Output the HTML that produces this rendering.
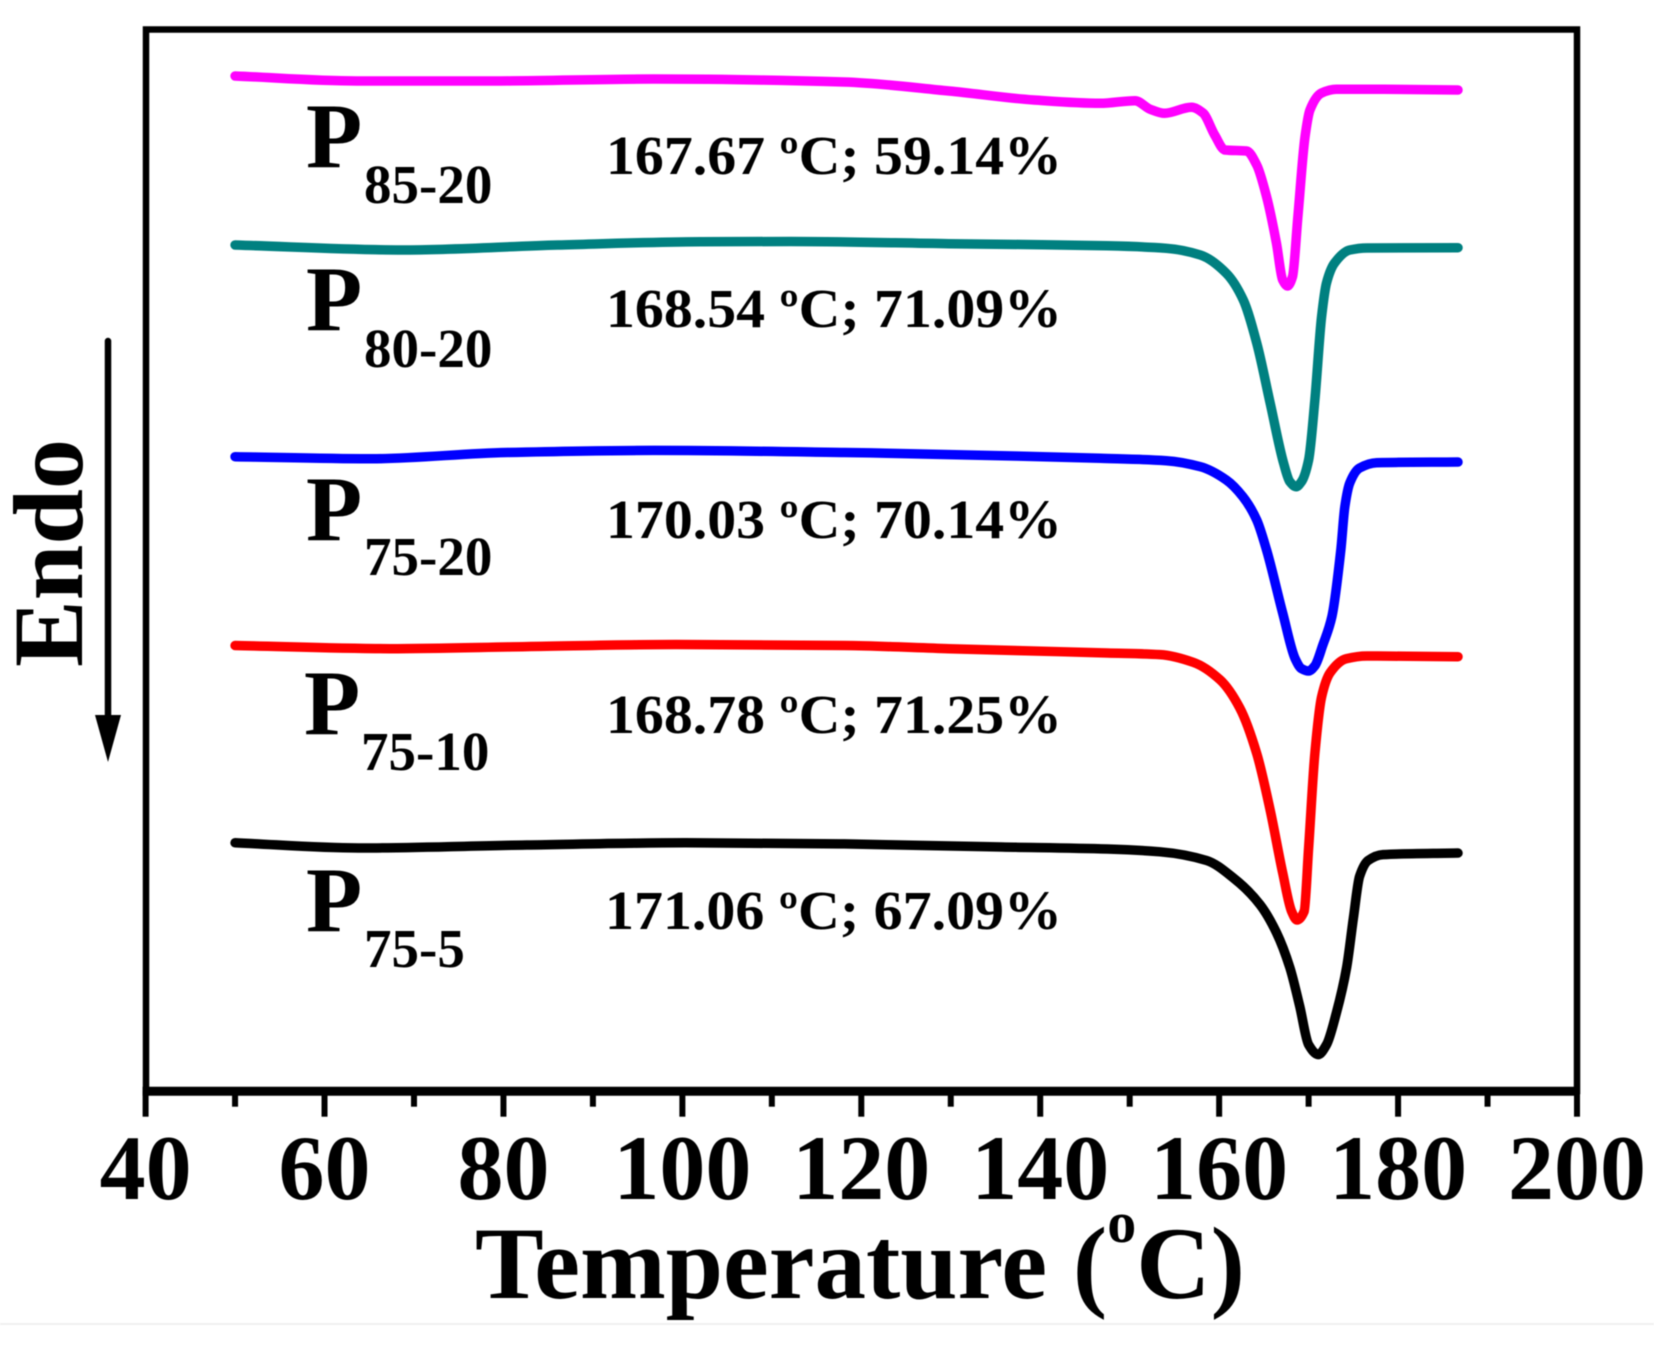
<!DOCTYPE html>
<html lang="en">
<head>
<meta charset="utf-8">
<title>DSC melting curves</title>
<style>
  html, body { margin: 0; padding: 0; background: #fff; }
  svg { display: block; filter: blur(0.6px); }
  text { font-family: "Liberation Serif", serif; font-weight: bold; fill: #000; }
</style>
</head>
<body>
<svg id="chart" xmlns="http://www.w3.org/2000/svg" width="1654" height="1345" viewBox="0 0 1654 1345">
  <rect x="0" y="0" width="1654" height="1345" fill="#ffffff"/>
  <rect x="0" y="1323" width="1654" height="2" fill="#f0f0f0"/>
  <g id="series-layer"></g>
  <rect x="146" y="29.5" width="1431" height="1061.5" fill="none" stroke="#000" stroke-width="6.5"/>
  <g id="axis-layer"></g>

  <text x="475" y="1298" font-size="103">Temperature (<tspan font-size="58" dy="-56">o</tspan><tspan dy="56">C)</tspan></text>

  <text transform="translate(82,667) rotate(-90)" font-size="100">Endo</text>
  <line x1="108" y1="341" x2="108" y2="720" stroke="#000" stroke-width="6.5" stroke-linecap="round"/>
  <polygon points="95,715 121,715 108,762" fill="#000"/>

  <g>
    <text x="306" y="167" font-size="92">P</text>
    <text x="364" y="203" font-size="55">85-20</text>
  </g>
  <g>
    <text x="306" y="330" font-size="92">P</text>
    <text x="364" y="367" font-size="55">80-20</text>
  </g>
  <g>
    <text x="306" y="540" font-size="92">P</text>
    <text x="364" y="575" font-size="55">75-20</text>
  </g>
  <g>
    <text x="304" y="734" font-size="92">P</text>
    <text x="361" y="770" font-size="55">75-10</text>
  </g>
  <g>
    <text x="306" y="931" font-size="92">P</text>
    <text x="364" y="967" font-size="55">75-5</text>
  </g>

  <text x="606" y="174" font-size="55" textLength="456" lengthAdjust="spacingAndGlyphs">167.67 ºC; 59.14%</text>
  <text x="606" y="327" font-size="55" textLength="456" lengthAdjust="spacingAndGlyphs">168.54 ºC; 71.09%</text>
  <text x="606" y="538" font-size="55" textLength="456" lengthAdjust="spacingAndGlyphs">170.03 ºC; 70.14%</text>
  <text x="606" y="733" font-size="55" textLength="456" lengthAdjust="spacingAndGlyphs">168.78 ºC; 71.25%</text>
  <text x="605" y="929" font-size="55" textLength="457" lengthAdjust="spacingAndGlyphs">171.06 ºC; 67.09%</text>
</svg>

<script>
// Axis tick data
const majorTicks = [40, 60, 80, 100, 120, 140, 160, 180, 200];
const minorTicks = [50, 70, 90, 110, 130, 150, 170, 190];

// Heat flow is in arbitrary units (no y tick labels in the figure)
const p85Temps = [50, 63.6, 78.6, 96.8, 118.1, 129.8, 139.3, 146.7, 150.6, 152.3, 153.9, 156.9, 158.2, 159.5, 160.65, 163.07, 164.2, 165.3, 166.4, 167.1, 167.65, 168.2, 168.8, 169.6, 170.15, 171.45, 173.1, 178.3, 186.7];
const p85Flow = [1014.7, 1009.7, 1009.7, 1011.7, 1008.7, 999.7, 990.7, 987.4, 990, 981.4, 977.4, 983.4, 977.7, 955.7, 940.7, 939.7, 925.7, 894, 847.7, 810.7, 804.7, 814, 874, 954, 980.7, 997.7, 1001.4, 1001.4, 1000.7];

const p80Temps = [50, 68.7, 86.1, 102, 112.1, 129.8, 147.45, 154.1, 157.9, 160.8, 162.7, 164.2, 165.7, 167.2, 167.9, 168.6, 169.2, 170, 170.7, 171.45, 172, 172.9, 174.6, 176.5, 186.7];
const p80Flow = [845.7, 840.7, 845.7, 849, 849.2, 847, 844.9, 842.4, 835.7, 817.4, 790.7, 747.7, 687.7, 627.7, 609, 604, 609, 630.7, 690.7, 774, 807.7, 827.7, 840.7, 842.7, 843];

const p7520Temps = [50, 65, 80.3, 96.8, 118.1, 135.7, 146.7, 154.1, 157.9, 160.8, 162.65, 164.2, 165.3, 167.1, 168.5, 169.2, 170, 170.7, 171.6, 172.6, 173.6, 174.05, 174.6, 175.7, 177.6, 186.7];
const p7520Flow = [634, 631.9, 638.2, 640.3, 638.2, 635, 632.4, 630, 624, 610.7, 594, 570.7, 540.7, 477.7, 431.9, 422.1, 419.7, 424.9, 446, 474, 540.7, 584, 607.7, 622.7, 628, 628.7];

const p7510Temps = [50, 67.3, 82.6, 99.2, 118.1, 129.8, 147.5, 153.4, 157.1, 160.1, 162.3, 164.2, 165.7, 167.1, 168.1, 168.7, 169.5, 170, 170.7, 171.45, 172.4, 174.2, 176.5, 186.7];
const p7510Flow = [445.2, 442, 444.1, 446.2, 445.2, 442, 437.7, 436.1, 428.4, 410.9, 382.8, 337.2, 280.7, 217.9, 179.3, 170.7, 179.3, 242.7, 337.2, 393.7, 417.9, 431.9, 434.7, 434];

const p755Temps = [50, 63.8, 82.6, 100.35, 118.1, 135.7, 147.5, 153.4, 158.6, 161.6, 164.55, 166.4, 167.9, 169, 170, 171.07, 172, 173.1, 174.25, 175, 175.7, 176.65, 178.3, 186.7];
const p755Flow = [247.9, 242.7, 245.7, 247.9, 246.8, 243.7, 241.7, 238.9, 230.2, 212.7, 186.3, 158.2, 123.2, 84.7, 46, 36.1, 46, 77.7, 123.2, 172.3, 214.4, 230.2, 236.1, 237.7];

// Axis functions
const plotLeft = 145.6, plotRight = 1577, plotTop = 38, plotBottom = 1090.7;
const xMin = 40, xMax = 200, yMin = 0, yMax = 1052.7;
function xScale(t) { return plotLeft + (t - xMin) / (xMax - xMin) * (plotRight - plotLeft); }
function yScale(v) { return plotBottom - (v - yMin) / (yMax - yMin) * (plotBottom - plotTop); }

const SVG_NS = 'http://www.w3.org/2000/svg';
const axisLayer = document.getElementById('axis-layer');
const seriesLayer = document.getElementById('series-layer');

// Shape-preserving (monotone) cubic through the mapped points
function smoothPath(xs, ys) {
  const px = xs.map(xScale);
  const py = ys.map(yScale);
  const n = px.length;
  const h = [], s = [];
  for (let i = 0; i < n - 1; i++) {
    h.push(px[i + 1] - px[i]);
    s.push((py[i + 1] - py[i]) / h[i]);
  }
  const m = new Array(n).fill(0);
  m[0] = s[0];
  m[n - 1] = s[n - 2];
  for (let i = 1; i < n - 1; i++) {
    if (s[i - 1] * s[i] > 0) {
      const w1 = 2 * h[i] + h[i - 1];
      const w2 = h[i] + 2 * h[i - 1];
      m[i] = (w1 + w2) / (w1 / s[i - 1] + w2 / s[i]);
    }
  }
  let d = 'M' + px[0].toFixed(2) + ' ' + py[0].toFixed(2);
  for (let i = 0; i < n - 1; i++) {
    const c = h[i] / 3;
    d += 'C' + (px[i] + c).toFixed(2) + ' ' + (py[i] + m[i] * c).toFixed(2) + ' ' +
         (px[i + 1] - c).toFixed(2) + ' ' + (py[i + 1] - m[i + 1] * c).toFixed(2) + ' ' +
         px[i + 1].toFixed(2) + ' ' + py[i + 1].toFixed(2);
  }
  return d;
}

function drawSeries(name, temps, flow, color) {
  const path = document.createElementNS(SVG_NS, 'path');
  
  
  path.setAttribute('d', smoothPath(temps, flow));
  path.setAttribute('fill', 'none');
  path.setAttribute('stroke', color);
  path.setAttribute('stroke-width', '9.5');
  path.setAttribute('stroke-linecap', 'round');
  path.setAttribute('stroke-linejoin', 'round');
  seriesLayer.appendChild(path);
}

drawSeries('curve-p85-20', p85Temps, p85Flow, '#ff00ff');
drawSeries('curve-p80-20', p80Temps, p80Flow, '#008080');
drawSeries('curve-p75-20', p7520Temps, p7520Flow, '#0000ff');
drawSeries('curve-p75-10', p7510Temps, p7510Flow, '#ff0000');
drawSeries('curve-p75-5', p755Temps, p755Flow, '#000000');

// Thick bottom axis line
const axisLine = document.createElementNS(SVG_NS, 'line');


axisLine.setAttribute('x1', xScale(xMin) - 3);
axisLine.setAttribute('x2', xScale(xMax) + 3);
axisLine.setAttribute('y1', plotBottom + 0.5);
axisLine.setAttribute('y2', plotBottom + 0.5);
axisLine.setAttribute('stroke', '#000');
axisLine.setAttribute('stroke-width', '9');
axisLayer.appendChild(axisLine);

majorTicks.forEach(function (t) {
  const tick = document.createElementNS(SVG_NS, 'line');
  
  
  tick.setAttribute('x1', xScale(t));
  tick.setAttribute('x2', xScale(t));
  tick.setAttribute('y1', plotBottom);
  tick.setAttribute('y2', plotBottom + 26);
  tick.setAttribute('stroke', '#000');
  tick.setAttribute('stroke-width', '6');
  axisLayer.appendChild(tick);

  const label = document.createElementNS(SVG_NS, 'text');
  
  
  label.setAttribute('x', xScale(t));
  label.setAttribute('y', 1199);
  label.setAttribute('font-size', '92');
  label.setAttribute('text-anchor', 'middle');
  label.textContent = String(t);
  axisLayer.appendChild(label);
});

minorTicks.forEach(function (t) {
  const tick = document.createElementNS(SVG_NS, 'line');
  
  
  tick.setAttribute('x1', xScale(t));
  tick.setAttribute('x2', xScale(t));
  tick.setAttribute('y1', plotBottom);
  tick.setAttribute('y2', plotBottom + 16);
  tick.setAttribute('stroke', '#000');
  tick.setAttribute('stroke-width', '6');
  axisLayer.appendChild(tick);
});
</script>
</body>
</html>
